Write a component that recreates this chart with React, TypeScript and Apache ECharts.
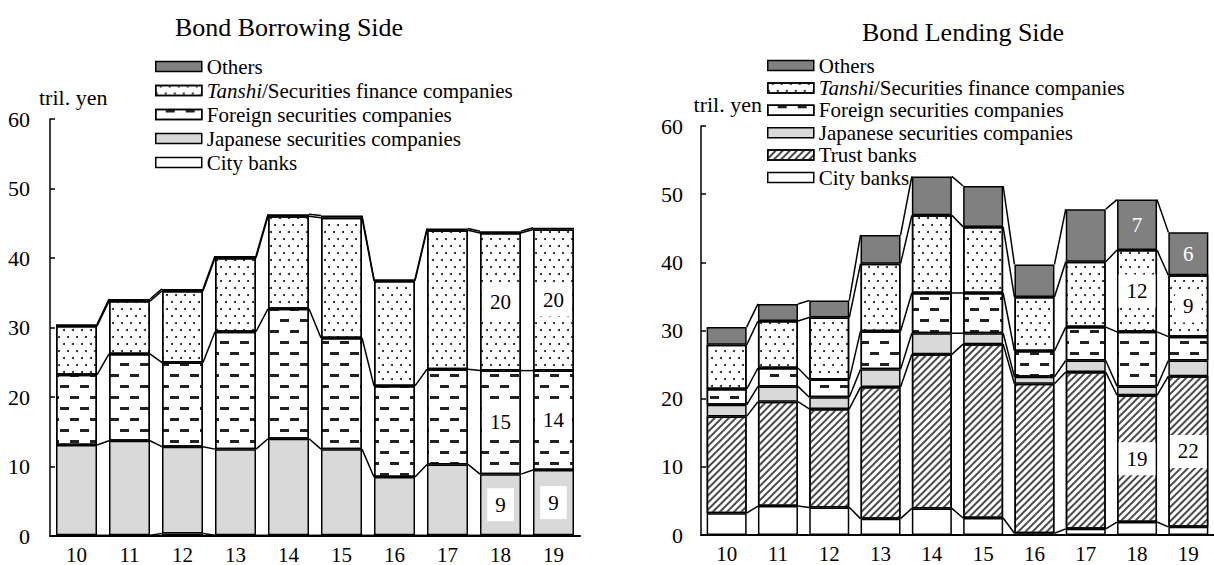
import React, { useEffect, useRef } from 'react';
import * as echarts from 'echarts';

const categories = ['10', '11', '12', '13', '14', '15', '16', '17', '18', '19'];

// Bond Borrowing Side (tril. yen)
const borCity = [0.1, 0.1, 0.35, 0.1, 0.1, 0.1, 0.1, 0.1, 0.1, 0.1];
const borJapanese = [13.0, 13.6, 12.5, 12.4, 13.9, 12.4, 8.4, 10.2, 8.8, 9.4];
const borForeign = [10.1, 12.5, 12.1, 16.9, 18.7, 16.0, 13.1, 13.7, 14.9, 14.3];
const borTanshi = [7.0, 7.6, 10.3, 10.6, 13.3, 17.3, 15.1, 20.0, 19.8, 20.3];
const borOthers = [0.25, 0.3, 0.3, 0.3, 0.3, 0.3, 0.25, 0.25, 0.25, 0.25];

// Bond Lending Side (tril. yen)
const lenCity = [3.2, 4.25, 4.05, 2.4, 3.9, 2.5, 0.25, 0.9, 1.9, 1.2];
const lenTrust = [14.2, 15.3, 14.45, 19.3, 22.6, 25.5, 21.95, 23.0, 18.6, 22.1];
const lenJapanese = [1.7, 2.25, 1.7, 2.6, 3.1, 1.6, 1.0, 1.7, 1.3, 2.3];
const lenForeign = [2.3, 2.7, 2.6, 5.6, 5.9, 5.9, 3.8, 4.9, 8.0, 3.5];
const lenTanshi = [6.5, 6.9, 9.1, 9.9, 11.4, 9.7, 7.9, 9.6, 12.0, 9.0];
const lenOthers = [2.6, 2.5, 2.5, 4.2, 5.7, 6.0, 4.8, 7.7, 7.4, 6.3];

const labelledIdx = [8, 9];

const N_OTHERS = 'Others';
const N_TANSHI = 'Tanshi/Securities finance companies';
const N_FOREIGN = 'Foreign securities companies';
const N_JAPANESE = 'Japanese securities companies';
const N_TRUST = 'Trust banks';
const N_CITY = 'City banks';

const FONT = '"Liberation Serif", "Times New Roman", serif';

const dotsDecal = {
  symbol: 'circle', symbolSize: 1, symbolKeepAspect: false, color: '#111',
  dashArrayX: [[2, 7], [0, 4, 2, 3]], dashArrayY: [2, 5],
};
const dashDecal = {
  symbol: 'rect', symbolSize: 1, symbolKeepAspect: false, color: '#222',
  dashArrayX: [[9, 11], [0, 10, 9, 1]], dashArrayY: [2.5, 7.5],
};
const hatchDecal = {
  symbol: 'rect', symbolSize: 1, symbolKeepAspect: false, color: '#4a4a4a',
  dashArrayX: [1, 0], dashArrayY: [1.3, 2.3], rotation: -Math.PI / 4,
};

type Kind = 'others' | 'tanshi' | 'foreign' | 'japanese' | 'trust' | 'city';

function styleFor(kind: Kind): any {
  const base: any = { borderColor: '#000', borderWidth: 1.5, color: '#fff' };
  if (kind === 'others') base.color = '#808080';
  if (kind === 'japanese') base.color = '#d9d9d9';
  if (kind === 'tanshi') base.decal = dotsDecal;
  if (kind === 'foreign') base.decal = dashDecal;
  if (kind === 'trust') base.decal = hatchDecal;
  return base;
}

function bar(name: string, kind: Kind, values: number[], stack: string, axis: number, barW: number, label?: any) {
  return {
    type: 'bar',
    name,
    stack,
    xAxisIndex: axis,
    yAxisIndex: axis,
    barWidth: barW,
    itemStyle: styleFor(kind),
    emphasis: { disabled: true },
    data: values.map((v, i) =>
      label && labelledIdx.includes(i)
        ? {
            value: v,
            label: {
              show: true,
              position: 'inside',
              formatter: (p: any) => String(Math.round(p.value)),
              fontFamily: FONT,
              fontSize: 21,
              lineHeight: 21,
              color: '#000',
              backgroundColor: '#fff',
              padding: [6, 8],
              ...label,
            },
          }
        : v
    ),
  };
}

function connectors(stacks: number[][], axis: number, barW: number) {
  const cums: number[][] = [];
  let run = categories.map(() => 0);
  stacks.forEach((s) => {
    run = run.map((r, i) => r + s[i]);
    cums.push(run.slice());
  });
  return {
    type: 'custom',
    xAxisIndex: axis,
    yAxisIndex: axis,
    silent: true,
    z: 5,
    encode: { x: 0, y: 1 },
    data: categories.slice(0, -1).map((_, i) => [i, 0]),
    renderItem: (params: any, api: any) => {
      const i = api.value(0);
      return {
        type: 'group',
        children: cums.map((c) => {
          const p1 = api.coord([i, c[i]]);
          const p2 = api.coord([i + 1, c[i + 1]]);
          return {
            type: 'line',
            shape: { x1: p1[0] + barW / 2, y1: p1[1], x2: p2[0] - barW / 2, y2: p2[1] },
            style: { stroke: '#000', lineWidth: 1.5 },
          };
        }),
      };
    },
  };
}

const legendFormatter = (name: string) =>
  name.startsWith('Tanshi') ? '{it|Tanshi}{n|' + name.slice(6) + '}' : '{n|' + name + '}';

function legend(names: string[], left: number, top: number, fs: number, iw: number, gap: number) {
  return {
    data: names,
    orient: 'vertical',
    left,
    top,
    padding: 0,
    itemWidth: iw,
    itemHeight: 10,
    itemGap: gap,
    itemStyle: { borderColor: '#000', borderWidth: 1.5 },
    icon: 'rect',
    selectedMode: false,
    formatter: legendFormatter,
    textStyle: {
      fontFamily: FONT,
      fontSize: fs,
      color: '#000',
      lineHeight: fs,
      rich: {
        it: { fontFamily: FONT, fontSize: fs, fontStyle: 'italic', color: '#000', lineHeight: fs },
        n: { fontFamily: FONT, fontSize: fs, color: '#000', lineHeight: fs },
      },
    },
  };
}

function xAxis(grid: number) {
  return {
    type: 'category',
    gridIndex: grid,
    data: categories,
    axisLine: { lineStyle: { color: '#000', width: 2 } },
    axisTick: { inside: true, length: 5, lineStyle: { color: '#000', width: 1.5 } },
    axisLabel: { fontFamily: FONT, fontSize: 21, color: '#000', margin: 8 },
  };
}

function yAxis(grid: number, margin: number) {
  return {
    type: 'value',
    gridIndex: grid,
    min: 0,
    max: 60,
    interval: 10,
    splitLine: { show: false },
    axisLine: { show: true, lineStyle: { color: '#000', width: 1.5 } },
    axisTick: { show: true, inside: true, length: 5, lineStyle: { color: '#000', width: 1.5 } },
    axisLabel: { fontFamily: FONT, fontSize: 22, color: '#000', margin },
  };
}

export default function App() {
  const ref = useRef<HTMLDivElement>(null);
  useEffect(() => {
    if (!ref.current) return;
    const chart = echarts.init(ref.current, null, { renderer: 'svg' });
    const BW_L = 41;
    const BW_R = 40;
    const option: any = {
      animation: false,
      backgroundColor: '#fff',
      grid: [
        { left: 50, top: 119, width: 530, height: 420 },
        { left: 701, top: 126, width: 522, height: 409 },
      ],
      xAxis: [xAxis(0), xAxis(1)],
      yAxis: [yAxis(0, 20), yAxis(1, 18)],
      legend: [
        legend([N_OTHERS, N_TANSHI, N_FOREIGN, N_JAPANESE, N_CITY], 155, 56, 21, 46, 3),
        legend([N_OTHERS, N_TANSHI, N_FOREIGN, N_JAPANESE, N_TRUST, N_CITY], 767, 55, 21, 46, 1.4),
      ],
      graphic: [
        { type: 'text', x: 289, y: 27, style: { text: 'Bond Borrowing Side', align: 'center', verticalAlign: 'middle', font: '26px ' + FONT, fill: '#000' } },
        { type: 'text', x: 963, y: 32, style: { text: 'Bond Lending Side', align: 'center', verticalAlign: 'middle', font: '26px ' + FONT, fill: '#000' } },
        { type: 'text', x: 39, y: 97, style: { text: 'tril. yen', align: 'left', verticalAlign: 'middle', font: '22px ' + FONT, fill: '#000' } },
        { type: 'text', x: 762, y: 104, style: { text: 'tril. yen', align: 'right', verticalAlign: 'middle', font: '22px ' + FONT, fill: '#000' } },
      ],
      series: [
        bar(N_CITY, 'city', borCity, 'bor', 0, BW_L),
        bar(N_JAPANESE, 'japanese', borJapanese, 'bor', 0, BW_L, {}),
        bar(N_FOREIGN, 'foreign', borForeign, 'bor', 0, BW_L, {}),
        bar(N_TANSHI, 'tanshi', borTanshi, 'bor', 0, BW_L, {}),
        bar(N_OTHERS, 'others', borOthers, 'bor', 0, BW_L),
        connectors([borCity, borJapanese, borForeign, borTanshi, borOthers], 0, BW_L),
        bar(N_CITY, 'city', lenCity, 'len', 1, BW_R),
        bar(N_TRUST, 'trust', lenTrust, 'len', 1, BW_R, {}),
        bar(N_JAPANESE, 'japanese', lenJapanese, 'len', 1, BW_R),
        bar(N_FOREIGN, 'foreign', lenForeign, 'len', 1, BW_R),
        bar(N_TANSHI, 'tanshi', lenTanshi, 'len', 1, BW_R, {}),
        bar(N_OTHERS, 'others', lenOthers, 'len', 1, BW_R, { color: '#fff', backgroundColor: 'transparent' }),
        connectors([lenCity, lenTrust, lenJapanese, lenForeign, lenTanshi, lenOthers], 1, BW_R),
      ],
    };
    chart.setOption(option);
    return () => chart.dispose();
  }, []);
  return (
    <div
      ref={ref}
      style={{ position: 'absolute', left: 0, top: 0, width: 1214, height: 565, background: '#fff' }}
    />
  );
}
